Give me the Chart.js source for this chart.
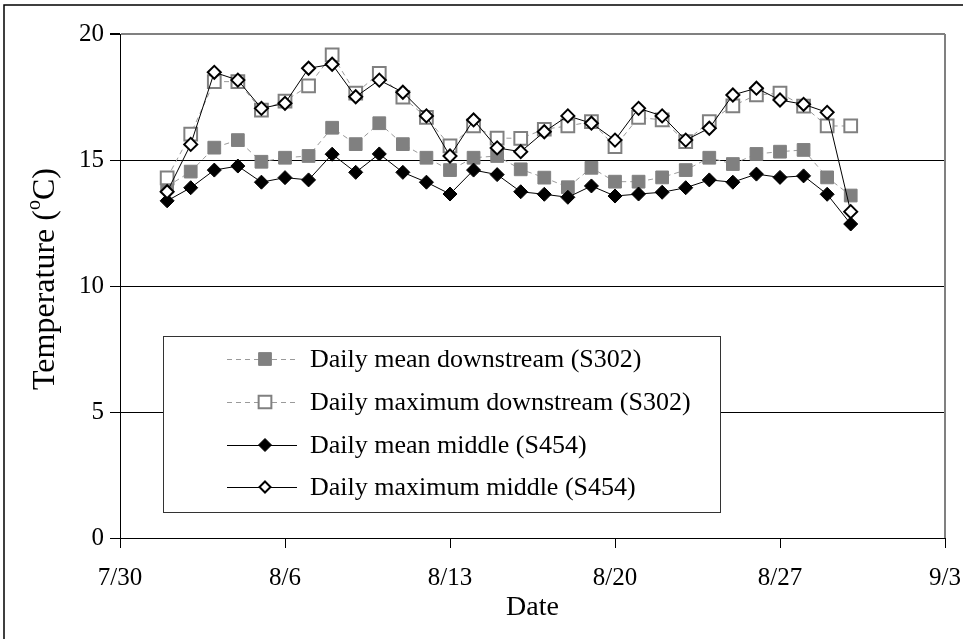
<!DOCTYPE html>
<html><head><meta charset="utf-8">
<script src="https://cdn.jsdelivr.net/npm/chart.js@4/dist/chart.umd.min.js"></script>
<style>html,body{margin:0;padding:0;background:#fff;}#wrap{width:963px;height:639px;}</style>
</head><body><div id="wrap"><canvas id="c" width="963" height="639"></canvas></div>
<script>
const dates = ['8/1','8/2','8/3','8/4','8/5','8/6','8/7','8/8','8/9','8/10','8/11','8/12','8/13','8/14','8/15','8/16','8/17','8/18','8/19','8/20','8/21','8/22','8/23','8/24','8/25','8/26','8/27','8/28','8/29','8/30'];
const xTickLabels = ['7/30','8/6','8/13','8/20','8/27','9/3'];
const yTickValues = [0,5,10,15,20];
const meanDownstream = [13.95,14.54,15.49,15.79,14.93,15.09,15.16,16.28,15.63,16.46,15.63,15.09,14.60,15.09,15.16,14.63,14.30,13.92,14.69,14.14,14.14,14.31,14.60,15.09,14.84,15.24,15.33,15.40,14.31,13.59];
const maxDownstream  = [14.29,16.03,18.11,18.11,16.98,17.34,17.94,19.17,17.65,18.44,17.49,16.69,15.56,16.35,15.87,15.86,16.22,16.35,16.52,15.53,16.69,16.59,15.73,16.52,17.15,17.58,17.65,17.14,16.35,16.35];
const meanMiddle     = [13.38,13.90,14.60,14.76,14.12,14.30,14.21,15.23,14.51,15.24,14.51,14.12,13.65,14.60,14.42,13.74,13.64,13.52,13.97,13.57,13.65,13.72,13.90,14.21,14.12,14.44,14.31,14.37,13.64,12.46];
const maxMiddle      = [13.74,15.62,18.48,18.17,17.05,17.25,18.64,18.80,17.51,18.17,17.69,16.75,15.16,16.59,15.48,15.33,16.12,16.75,16.46,15.79,17.05,16.75,15.79,16.26,17.58,17.85,17.38,17.21,16.89,12.95];
const seriesNames = ['Daily mean downstream (S302)','Daily maximum downstream (S302)','Daily mean middle (S454)','Daily maximum middle (S454)'];

function dayIndex(s){ // days since 7/30
  const [m,d] = s.split('/').map(Number);
  if (m === 7) return d - 30;
  if (m === 8) return d + 1;
  return d + 32;
}
const pts = arr => arr.map((v,i)=>({x: dayIndex(dates[i]), y: v}));
const FONT = '"Liberation Serif","Times New Roman",serif';
const GRAY = '#808080';

const styles = [
  {type:'rect', fill:GRAY, stroke:GRAY, r:9, bw:1, line:'#9a9a9a', dash:[5,4]},
  {type:'rect', fill:'#fff', stroke:GRAY, r:9, bw:2, line:'#9a9a9a', dash:[5,4]},
  {type:'rectRot', fill:'#000', stroke:'#000', r:7, bw:1, line:'#000', dash:[]},
  {type:'rectRot', fill:'#fff', stroke:'#000', r:6.5, bw:2, line:'#000', dash:[]}
];
const seriesData = [meanDownstream, maxDownstream, meanMiddle, maxMiddle];

const datasets = seriesData.map((arr,i)=>({
  label: seriesNames[i],
  data: pts(arr),
  borderColor: styles[i].line,
  borderWidth: 1,
  borderDash: styles[i].dash,
  pointStyle: styles[i].type,
  pointRadius: styles[i].r,
  pointBackgroundColor: styles[i].fill,
  pointBorderColor: styles[i].stroke,
  pointBorderWidth: styles[i].bw,
  tension: 0,
  fill: false,
  order: 4 - i
}));

function drawMarker(ctx, type, x, y, r, fill, stroke, bw){
  ctx.save();
  ctx.beginPath();
  if (type === 'rect') {
    const s = r * Math.SQRT1_2;
    ctx.rect(x - s, y - s, 2*s, 2*s);
  } else {
    ctx.moveTo(x, y - r); ctx.lineTo(x + r, y); ctx.lineTo(x, y + r); ctx.lineTo(x - r, y); ctx.closePath();
  }
  ctx.fillStyle = fill; ctx.fill();
  ctx.lineWidth = bw; ctx.strokeStyle = stroke; ctx.setLineDash([]); ctx.stroke();
  ctx.restore();
}

const decor = {
  id: 'decor',
  beforeDraw(chart){
    const ctx = chart.ctx;
    ctx.save();
    ctx.fillStyle = '#fff';
    ctx.fillRect(0,0,chart.width,chart.height);
    ctx.strokeStyle = '#000'; ctx.lineWidth = 1.5;
    ctx.beginPath(); ctx.moveTo(4, chart.height); ctx.lineTo(4, 5); ctx.lineTo(chart.width, 5); ctx.stroke();
    ctx.restore();
  },
  afterDraw(chart){
    const ctx = chart.ctx, a = chart.chartArea;
    ctx.save();
    ctx.strokeStyle = GRAY; ctx.lineWidth = 2;
    ctx.beginPath(); ctx.moveTo(a.right, a.top); ctx.lineTo(a.right, a.bottom); ctx.stroke();
    // y title with superscript
    ctx.translate(46, 279);
    ctx.rotate(-Math.PI/2);
    ctx.fillStyle = '#000';
    ctx.textBaseline = 'middle';
    const big = '32px ' + FONT, small = '20px ' + FONT;
    ctx.font = big;
    const p1 = 'Temperature (', p3 = 'C)';
    const w1 = ctx.measureText(p1).width, w3 = ctx.measureText(p3).width;
    ctx.font = small; const w2 = ctx.measureText('o').width;
    let x = -(w1 + w2 + w3)/2;
    ctx.font = big; ctx.textAlign = 'left';
    ctx.fillText(p1, x, 0); x += w1;
    ctx.font = small; ctx.fillText('o', x, -11); x += w2;
    ctx.font = big; ctx.fillText(p3, x, 0);
    ctx.restore();

    // legend box
    const bx = 163, by = 336, bw = 557, bh = 176;
    ctx.save();
    ctx.fillStyle = '#fff'; ctx.fillRect(bx, by, bw, bh);
    ctx.strokeStyle = '#333'; ctx.lineWidth = 1;
    ctx.strokeRect(bx + 0.5, by + 0.5, bw, bh);
    const rows = [359, 402, 445, 487];
    const legendSizes = [{r:9},{r:9},{r:6.5},{r:5.5}];
    rows.forEach((yy, i) => {
      const st = styles[i];
      ctx.strokeStyle = st.line; ctx.lineWidth = 1; ctx.setLineDash(st.dash);
      ctx.beginPath(); ctx.moveTo(227, yy + 0.5); ctx.lineTo(297, yy + 0.5); ctx.stroke();
      ctx.setLineDash([]);
      drawMarker(ctx, st.type, 265, yy, legendSizes[i].r, st.fill, st.stroke, st.bw);
      ctx.fillStyle = '#000'; ctx.font = '26px ' + FONT; ctx.textAlign = 'left'; ctx.textBaseline = 'middle';
      ctx.fillText(seriesNames[i], 310, yy + 1);
    });
    ctx.restore();
  }
};

new Chart(document.getElementById('c'), {
  type: 'line',
  data: { datasets },
  options: {
    responsive: false, animation: false, devicePixelRatio: 1,
    layout: { padding: { top: 34, right: 18, left: 0, bottom: 0 }, autoPadding: false },
    plugins: { legend: { display: false }, tooltip: { enabled: false } },
    scales: {
      x: {
        type: 'linear', min: 0, max: 35,
        afterBuildTicks: s => { s.ticks = xTickLabels.map((l,i)=>({value: i*7})); },
        ticks: { callback: (v) => xTickLabels[Math.round(v/7)], font: { family: FONT, size: 25 }, color: '#000', padding: 15, maxRotation: 0, autoSkip: false },
        grid: { drawOnChartArea: false, drawTicks: true, tickLength: 10, tickColor: '#000' },
        border: { color: '#000', width: 1 },
        title: { display: true, text: 'Date', font: { family: FONT, size: 28 }, color: '#000', padding: { top: 0, bottom: 15 } },
        afterFit: s => { s.height = 101; s.paddingLeft = 0; s.paddingRight = 0; }
      },
      y: {
        min: 0, max: 20,
        afterBuildTicks: s => { s.ticks = yTickValues.map(v => ({value: v})); },
        ticks: { font: { family: FONT, size: 25 }, color: '#000', padding: 6 },
        grid: {
          color: c => c.tick && c.tick.value === 20 ? GRAY : '#000',
          lineWidth: c => c.tick && c.tick.value === 20 ? 2 : 1,
          tickColor: '#000', tickLength: 10, drawTicks: true
        },
        border: { color: '#000', width: 1 },
        afterFit: s => { s.width = 120; s.paddingTop = 0; s.paddingBottom = 0; }
      }
    }
  },
  plugins: [decor]
});
</script></body></html>
